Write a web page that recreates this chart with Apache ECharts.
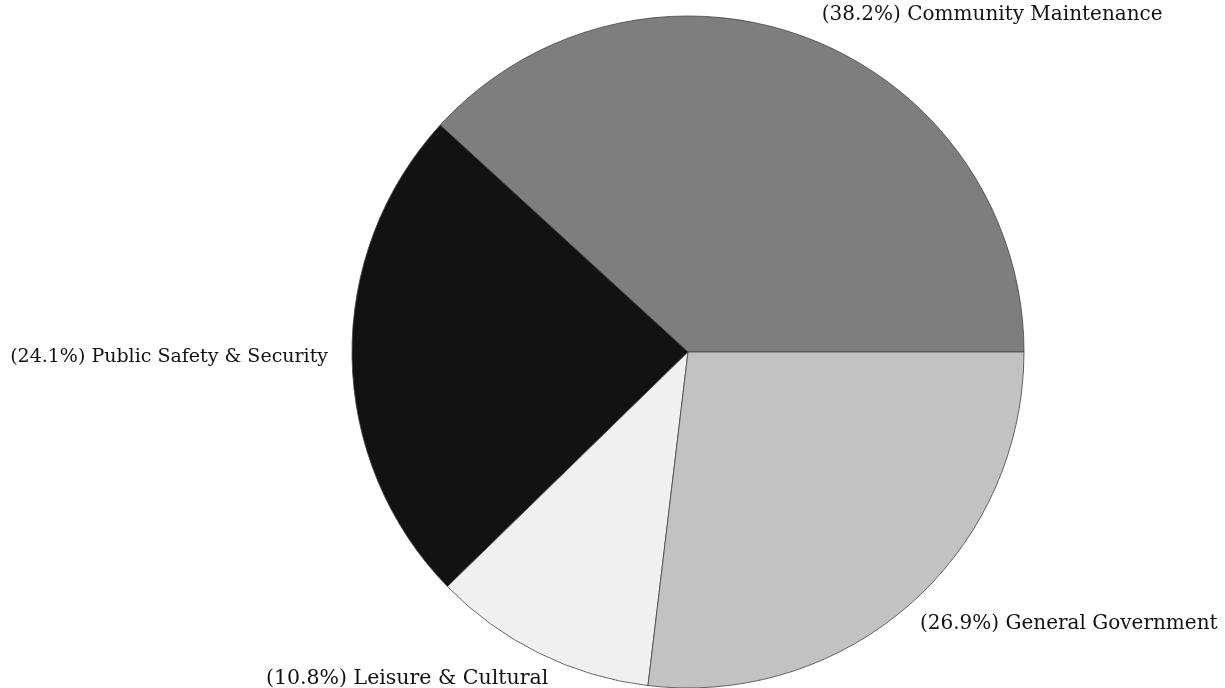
<!DOCTYPE html>
<html><head><meta charset="utf-8">
<script src="https://cdn.jsdelivr.net/npm/echarts@6/dist/echarts.min.js"></script>
<style>html,body{margin:0;padding:0;background:#fff}#c{width:1225px;height:688px}</style>
</head><body><div id="c"></div>
<script>
var categories = ['Community Maintenance', 'Public Safety & Security', 'Leisure & Cultural', 'General Government'];
var values = [38.2, 24.1, 10.8, 26.9];
var colors = ['#7e7e7e', '#121212', '#f0f0f0', '#c2c2c2'];
var labelSizes = [20, 19, 20.5, 20];

var chart = echarts.init(document.getElementById('c'));
var data = categories.map(function (n, i) {
  return { name: n, value: values[i], itemStyle: { color: colors[i] }, label: { fontSize: labelSizes[i] } };
});
var offsets = [
  { dx: 7, dy: -24 },
  { dx: -19, dy: 0 },
  { dx: 14, dy: 25 },
  { dx: 4, dy: 20 }
];
chart.setOption({
  animation: false,
  backgroundColor: '#fff',
  series: [{
    type: 'pie',
    center: [688, 352],
    radius: 336,
    startAngle: 0,
    clockwise: false,
    data: data,
    itemStyle: { borderColor: '#444', borderWidth: 0.8 },
    label: {
      show: true,
      position: 'outside',
      formatter: function (p) { return '(' + p.value.toFixed(1) + '%) ' + p.name; },
      fontFamily: 'DejaVu Serif',
      fontSize: 19,
      color: '#111'
    },
    labelLine: { show: false, length: 0, length2: 0 },
    labelLayout: function (params) {
      return offsets[params.dataIndex];
    }
  }]
});
</script></body></html>
